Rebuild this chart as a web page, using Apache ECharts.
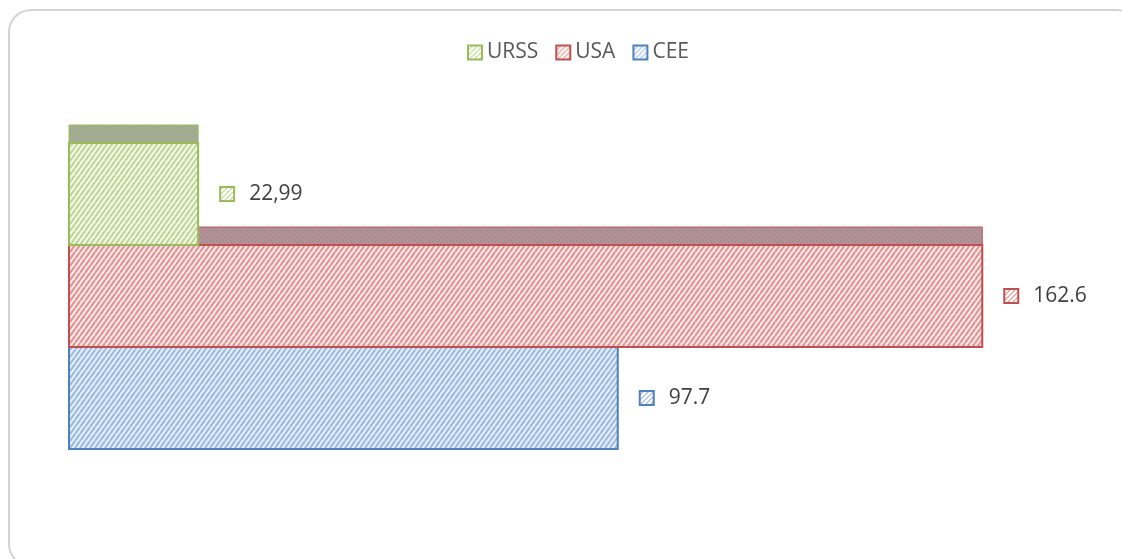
<!DOCTYPE html>
<html>
<head>
<meta charset="utf-8">
<script src="https://cdn.jsdelivr.net/npm/echarts@6/dist/echarts.min.js"></script>
<style>
html, body { margin: 0; padding: 0; background: #fff; }
#container { width: 1122px; height: 559px; }
</style>
</head>
<body>
<div id="container"></div>
<script>
let chart = echarts.init(document.getElementById('container'));

var countries = ['URSS', 'USA', 'CEE'];
var values = [22.99, 162.6, 97.7];
var valueLabels = ['22,99', '162.6', '97.7'];

// front / top colours per country
var colors = {
    'URSS': { border: '#9bbb59', bg: '#f3f8ea', line: '#bcd591', topBg: '#95a183', topLine: '#acb79a' },
    'USA': { border: '#c0504d', bg: '#feeaea', line: '#e0908e', topBg: '#a48288', topLine: '#ba9a9e' },
    'CEE': { border: '#4f81bd', bg: '#e4eef9', line: '#9ab7df', topBg: '#7f93ad', topLine: '#93a5bc' }
};

function hatch(bg, line, w, h, lw) {
    let c = document.createElement('canvas');
    c.width = w;
    c.height = h;
    let ctx = c.getContext('2d');
    ctx.fillStyle = bg;
    ctx.fillRect(0, 0, w, h);
    ctx.strokeStyle = line;
    ctx.lineWidth = lw;
    for (let k = -1; k <= 1; k++) {
        ctx.beginPath();
        ctx.moveTo(k * w, h);
        ctx.lineTo((k + 1) * w, 0);
        ctx.stroke();
    }
    return { image: c, repeat: 'repeat' };
}

var depth = 18;

function makeRender(name) {
    let col = colors[name];
    let front = hatch(col.bg, col.line, 5, 7, 2);
    let top = hatch(col.topBg, col.topLine, 3, 5, 1);
    let icon = hatch('#ffffff', col.line, 5, 5, 1.2);
    let i = countries.indexOf(name);
    return function (params, api) {
        let p0 = api.coord([0, api.value(1)]);
        let p1 = api.coord([api.value(0), api.value(1)]);
        let band = api.size([0, 1])[1];
        let y0 = p0[1] - band / 2;
        let lx = p1[0] + 21;
        let ly = p1[1];
        return {
            type: 'group',
            children: [
                {
                    type: 'rect',
                    shape: { x: p0[0], y: y0 - depth, width: p1[0] - p0[0], height: depth },
                    style: { fill: top, stroke: col.border, lineWidth: 1, opacity: 0.95 }
                },
                {
                    type: 'rect',
                    shape: { x: p0[0], y: y0, width: p1[0] - p0[0], height: band },
                    style: { fill: front, stroke: col.border, lineWidth: 2 }
                },
                {
                    type: 'rect',
                    shape: { x: lx + 1, y: ly - 7, width: 14, height: 14 },
                    style: { fill: icon, stroke: col.border, lineWidth: 2 }
                },
                {
                    type: 'text',
                    x: lx + 30,
                    y: ly,
                    style: {
                        text: valueLabels[i],
                        fill: '#404040',
                        font: '21px "Open Sans"',
                        verticalAlign: 'middle',
                        align: 'left'
                    }
                }
            ]
        };
    };
}

// drawn bottom row first so upper fronts cover lower tops
var series = [];
['CEE', 'USA', 'URSS'].forEach(name => {
    let i = countries.indexOf(name);
    let col = colors[name];
    series.push({
        name: name,
        type: 'custom',
        renderItem: makeRender(name),
        encode: { x: 0, y: 1 },
        clip: false,
        itemStyle: { color: col.border },
        data: [[values[i], name]]
    });
});

var option = {
    animation: false,
    legend: {
        left: 462,
        top: 37,
        itemWidth: 14,
        itemHeight: 14,
        itemGap: 17,
        textStyle: { color: '#595959', fontSize: 21, fontFamily: 'Open Sans' },
        data: countries.map(n => ({
            name: n,
            icon: 'rect',
            itemStyle: { color: hatch('#ffffff', colors[n].line, 5, 5, 1.2), borderColor: colors[n].border, borderWidth: 2 }
        }))
    },
    grid: {
        left: 69,
        right: 42,
        top: 143,
        bottom: 110
    },
    xAxis: {
        type: 'value',
        min: 0,
        max: 180,
        show: false
    },
    yAxis: {
        type: 'category',
        inverse: true,
        data: countries,
        show: false
    },
    graphic: [{
        type: 'rect',
        silent: true,
        z: -1,
        shape: { x: 9, y: 10, width: 1130, height: 556, r: 22 },
        style: { fill: 'none', stroke: '#d4d4d4', lineWidth: 2 }
    }],
    series: series
};

chart.setOption(option);
</script>
</body>
</html>
